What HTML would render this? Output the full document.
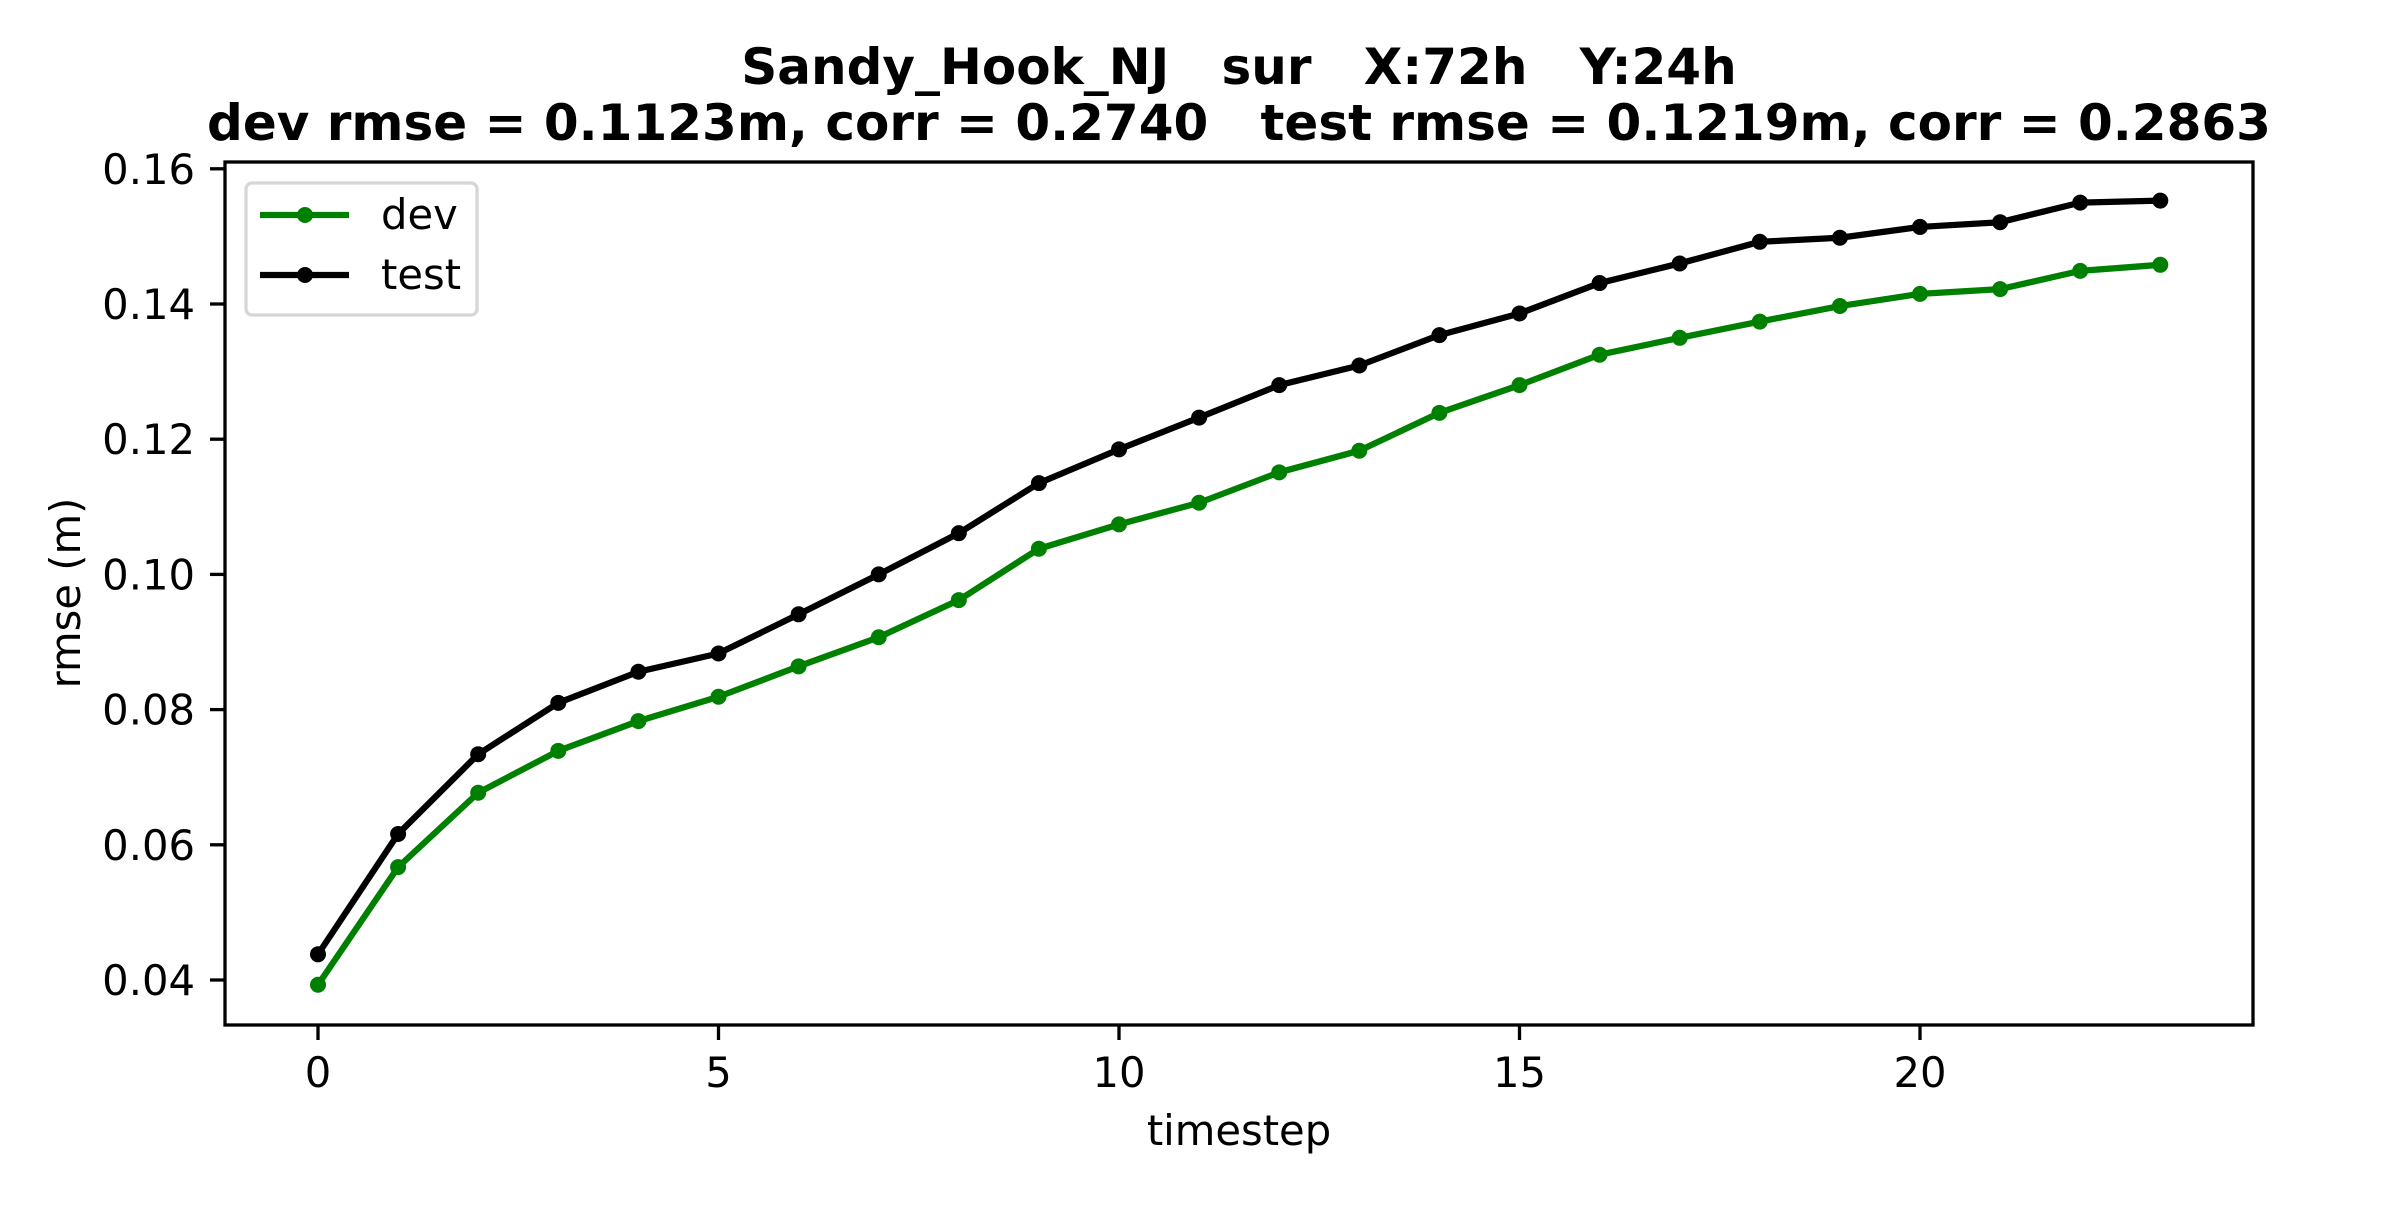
<!DOCTYPE html>
<html><head><meta charset="utf-8"><style>
html,body{margin:0;padding:0;background:#fff;}
svg text{font-family:"DejaVu Sans","Liberation Sans",sans-serif;}
</style></head><body>
<svg id="chart" width="2400" height="1200" viewBox="0 0 2400 1200" xmlns="http://www.w3.org/2000/svg">
<rect width="2400" height="1200" fill="#fff"/>
<text x="1239" y="84" font-size="50" font-weight="bold" text-anchor="middle" xml:space="preserve">Sandy_Hook_NJ   sur   X:72h   Y:24h</text>
<text x="1239" y="140" font-size="50" font-weight="bold" text-anchor="middle" xml:space="preserve">dev rmse = 0.1123m, corr = 0.2740   test rmse = 0.1219m, corr = 0.2863</text>
<g id="ticks"></g>
<g id="series"></g>
<rect x="225" y="162" width="2028" height="863" fill="none" stroke="#000" stroke-width="3.3"/>
<text x="1239" y="1145" font-size="41.7" text-anchor="middle">timestep</text>
<text x="0" y="0" font-size="41.7" text-anchor="middle" transform="translate(80,593) rotate(-90)">rmse (m)</text>
<g>
<rect x="246" y="183" width="231" height="132" rx="6" fill="#fff" fill-opacity="0.8" stroke="#d6d6d6" stroke-width="3.3"/>
<g>
<line x1="260" y1="215" x2="349" y2="215" stroke="#008000" stroke-width="6.25"/>
<circle cx="305" cy="215" r="8" fill="#008000"/>
<text x="381" y="229" font-size="41.7">dev</text>
</g>
<g>
<line x1="260" y1="275" x2="349" y2="275" stroke="#000" stroke-width="6.25"/>
<circle cx="305" cy="275" r="8" fill="#000"/>
<text x="381" y="289" font-size="41.7">test</text>
</g>
</g>
</svg>
<script>
const timesteps = [0,1,2,3,4,5,6,7,8,9,10,11,12,13,14,15,16,17,18,19,20,21,22,23];
const devValues = [0.0393,0.0567,0.0677,0.0739,0.0783,0.0819,0.0864,0.0907,0.0962,0.1038,0.1074,0.1106,0.1151,0.1183,0.1239,0.1280,0.1325,0.1350,0.1374,0.1397,0.1415,0.1422,0.1449,0.1458];
const testValues = [0.0438,0.0616,0.0734,0.0810,0.0856,0.0883,0.0941,0.1000,0.1061,0.1135,0.1185,0.1232,0.1280,0.1309,0.1354,0.1386,0.1431,0.1460,0.1492,0.1498,0.1514,0.1521,0.1550,0.1553];
const xTickLabels = ["0","5","10","15","20"];
const yTickLabels = ["0.04","0.06","0.08","0.10","0.12","0.14","0.16"];

const NS = "http://www.w3.org/2000/svg";
function xScale(v){ return 318 + (v - 0) * 80.1; }
function yScale(v){ return 980 - (v - 0.04) * 6760; }

const ticks = document.getElementById('ticks');
xTickLabels.forEach(function(lbl){
  const v = parseFloat(lbl), x = xScale(v);
  const l = document.createElementNS(NS,'line');
  l.setAttribute('x1',x); l.setAttribute('x2',x); l.setAttribute('y1',1025); l.setAttribute('y2',1040);
  l.setAttribute('stroke','#000'); l.setAttribute('stroke-width','3.3');
  
  
  ticks.appendChild(l);
  const t = document.createElementNS(NS,'text');
  t.setAttribute('x',x); t.setAttribute('y',1087); t.setAttribute('font-size','41.7'); t.setAttribute('text-anchor','middle');
  t.textContent = lbl;
  
  
  ticks.appendChild(t);
});
yTickLabels.forEach(function(lbl){
  const v = parseFloat(lbl), y = yScale(v);
  const l = document.createElementNS(NS,'line');
  l.setAttribute('x1',210); l.setAttribute('x2',225); l.setAttribute('y1',y); l.setAttribute('y2',y);
  l.setAttribute('stroke','#000'); l.setAttribute('stroke-width','3.3');
  
  
  ticks.appendChild(l);
  const t = document.createElementNS(NS,'text');
  t.setAttribute('x',195); t.setAttribute('y',y+15); t.setAttribute('font-size','41.7'); t.setAttribute('text-anchor','end');
  t.textContent = lbl;
  
  
  ticks.appendChild(t);
});

const series = document.getElementById('series');
function drawSeries(vals, color, name){
  const g = document.createElementNS(NS,'g');
  
  
  const pts = vals.map(function(v,i){ return xScale(timesteps[i]) + ',' + yScale(v); }).join(' ');
  const pl = document.createElementNS(NS,'polyline');
  pl.setAttribute('points',pts); pl.setAttribute('fill','none'); pl.setAttribute('stroke',color);
  pl.setAttribute('stroke-width','6.25'); pl.setAttribute('stroke-linejoin','round'); pl.setAttribute('stroke-linecap','square');
  
  
  g.appendChild(pl);
  vals.forEach(function(v,i){
    const c = document.createElementNS(NS,'circle');
    c.setAttribute('cx',xScale(timesteps[i])); c.setAttribute('cy',yScale(v)); c.setAttribute('r','8'); c.setAttribute('fill',color);
    
    
    g.appendChild(c);
  });
  series.appendChild(g);
}
drawSeries(devValues,'#008000','dev');
drawSeries(testValues,'#000000','test');
</script>
</body></html>
